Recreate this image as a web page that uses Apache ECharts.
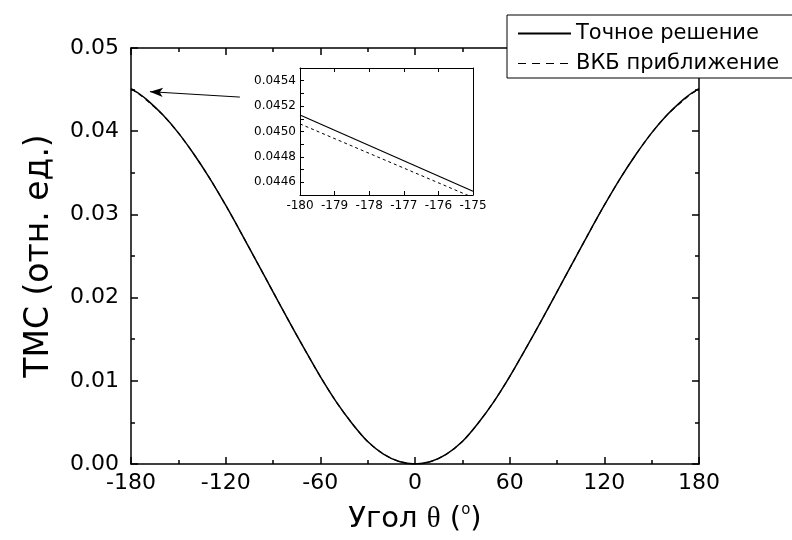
<!DOCTYPE html>
<html><head><meta charset="utf-8">
<script src="https://cdn.jsdelivr.net/npm/echarts@6/dist/echarts.min.js"></script>
<style>html,body{margin:0;padding:0;background:#fff}#c{width:792px;height:540px}</style>
</head><body><div id="c"></div>
<script>
// Main curve data
var angles = [-180,-175,-170,-160,-150,-140,-130,-120,-110,-100,-90,-80,-70,-60,-50,-40,-30,-20,-10,0,10,20,30,40,50,60,70,80,90,100,110,120,130,140,150,160,170,175,180];
var exactValues = [0.04513,0.04453,0.0438,0.0420,0.0398,0.0372,0.0343,0.0311,0.0277,0.0242,0.0207,0.0172,0.0138,0.0105,0.0075,0.0049,0.0027,0.0012,0.0003,0.0,0.0003,0.0012,0.0027,0.0049,0.0075,0.0105,0.0138,0.0172,0.0207,0.0242,0.0277,0.0311,0.0343,0.0372,0.0398,0.0420,0.0438,0.04453,0.04513];
var wkbValues   = [0.04506,0.04448,0.0437,0.0420,0.0398,0.0372,0.0343,0.0311,0.0277,0.0242,0.0207,0.0172,0.0138,0.0105,0.0075,0.0049,0.0027,0.0012,0.0003,0.0,0.0003,0.0012,0.0027,0.0049,0.0075,0.0105,0.0138,0.0172,0.0207,0.0242,0.0277,0.0311,0.0343,0.0372,0.0398,0.0420,0.0437,0.04448,0.04506];
// Inset data
var insetAngles = [-180,-175];
var insetExact = [0.04513,0.04453];
var insetWkb = [0.04506,0.04448];
var insetYLabels = [0.0446,0.0448,0.0450,0.0452,0.0454];
var insetYTicks = [0.0445,0.0446,0.0447,0.0448,0.0449,0.0450,0.0451,0.0452,0.0453,0.0454,0.0455];
var seriesNames = ['Точное решение','ВКБ приближение'];
var xTitle = 'Угол {t|θ} ({s|o})';
var yTitle = 'ТМС (отн. ед.)';
// Arrow annotation (data coords)
var arrowFrom = [-111, 0.0441];
var arrowTo = [-168, 0.04475];

function zip(a,b){return a.map(function(x,i){return [x,b[i]];});}
var FONT = 'DejaVu Sans, sans-serif';
var black = '#000';
var tickCommon = {show:true,inside:true,length:7,lineStyle:{color:black,width:1.5}};
var minorCommon = {show:true,splitNumber:2,length:4,lineStyle:{color:black,width:1.5}};
var lineCommon = {show:true,onZero:false,lineStyle:{color:black,width:1.5}};
var insetLine = {show:true,onZero:false,lineStyle:{color:black,width:1}};
var insetTick = {show:true,inside:true,length:4,lineStyle:{color:black,width:1}};

var chart = echarts.init(document.getElementById('c'), null, {renderer:'canvas'});
chart.setOption({
  backgroundColor:'#fff',
  animation:false,
  textStyle:{fontFamily:FONT,color:black},
  grid:[
    {left:131,top:48,width:568,height:416,show:false},
    {left:300,top:68,width:173,height:127,show:false}
  ],
  legend:{
    left:507, top:15, orient:'vertical',
    data:[{name:seriesNames[0]},{name:seriesNames[1],lineStyle:{type:[8,6],width:1.2}}],
    itemWidth:53, itemHeight:14, itemGap:9,
    padding:[8,40,4,10],
    itemStyle:{opacity:0},
    borderColor:black, borderWidth:1, backgroundColor:'#fff',
    textStyle:{fontSize:21,color:black,fontFamily:FONT},
    z:20
  },
  xAxis:[
    {gridIndex:0,type:'value',min:-180,max:180,interval:60,position:'bottom',
     axisLine:lineCommon,axisTick:tickCommon,minorTick:minorCommon,splitLine:{show:false},
     axisLabel:{fontSize:22,color:black,margin:8,fontFamily:FONT},
     name:xTitle,nameLocation:'middle',nameGap:39,
     nameTextStyle:{fontSize:29,color:black,fontFamily:FONT,
       rich:{t:{fontSize:29,fontFamily:'Liberation Serif, serif',color:black},
             s:{fontSize:15,color:black,fontFamily:FONT,padding:[0,0,18,0]}}}},
    {gridIndex:0,type:'value',min:-180,max:180,interval:60,position:'top',
     axisLine:lineCommon,axisTick:tickCommon,minorTick:minorCommon,splitLine:{show:false},
     axisLabel:{show:false}},
    {gridIndex:1,type:'value',min:-180,max:-175,interval:1,position:'bottom',
     axisLine:insetLine,axisTick:insetTick,splitLine:{show:false},
     axisLabel:{fontSize:12,color:black,margin:5,fontFamily:FONT}},
    {gridIndex:1,type:'value',min:-180,max:-175,interval:1,position:'top',
     axisLine:insetLine,axisTick:insetTick,splitLine:{show:false},axisLabel:{show:false}}
  ],
  yAxis:[
    {gridIndex:0,type:'value',min:0,max:0.05,interval:0.01,position:'left',
     axisLine:lineCommon,axisTick:tickCommon,minorTick:minorCommon,splitLine:{show:false},
     axisLabel:{fontSize:22,color:black,margin:12,fontFamily:FONT,formatter:function(v){return v.toFixed(2);}},
     name:yTitle,nameLocation:'middle',nameGap:75,
     nameTextStyle:{fontSize:33,color:black,fontFamily:FONT}},
    {gridIndex:0,type:'value',min:0,max:0.05,interval:0.01,position:'right',
     axisLine:lineCommon,axisTick:tickCommon,minorTick:minorCommon,splitLine:{show:false},
     axisLabel:{show:false}},
    {gridIndex:1,type:'value',min:0.0445,max:0.0455,position:'left',
     axisLine:insetLine,
     axisTick:{show:true,inside:true,length:4,customValues:insetYTicks,lineStyle:{color:black,width:1}},
     splitLine:{show:false},
     axisLabel:{fontSize:12,color:black,margin:4,fontFamily:FONT,customValues:insetYLabels,
       formatter:function(v){return v.toFixed(4);}}},
    {gridIndex:1,type:'value',min:0.0445,max:0.0455,position:'right',
     axisLine:insetLine,axisTick:{show:false},splitLine:{show:false},axisLabel:{show:false}}
  ],
  series:[
    {name:seriesNames[0],type:'line',xAxisIndex:0,yAxisIndex:0,data:zip(angles,exactValues),
     symbol:'none',smooth:0.3,lineStyle:{color:black,width:1.5,type:'solid'},itemStyle:{color:black},
     markLine:{silent:true,symbol:['none','arrow'],symbolSize:[7,13],label:{show:false},
       lineStyle:{color:black,width:1,type:'solid'},
       data:[[{coord:arrowFrom},{coord:arrowTo}]]}},
    {name:seriesNames[1],type:'line',xAxisIndex:0,yAxisIndex:0,data:zip(angles,wkbValues),
     symbol:'none',smooth:0.3,lineStyle:{color:black,width:1.2,type:[5,4]},itemStyle:{color:black}},
    {name:seriesNames[0],type:'line',xAxisIndex:2,yAxisIndex:2,data:zip(insetAngles,insetExact),
     symbol:'none',clip:true,lineStyle:{color:black,width:1.2,type:'solid'},itemStyle:{color:black},z:6},
    {name:seriesNames[1],type:'line',xAxisIndex:2,yAxisIndex:2,data:zip(insetAngles,insetWkb),
     symbol:'none',clip:true,lineStyle:{color:black,width:1,type:[3,3]},itemStyle:{color:black},z:6}
  ]
});
</script></body></html>
